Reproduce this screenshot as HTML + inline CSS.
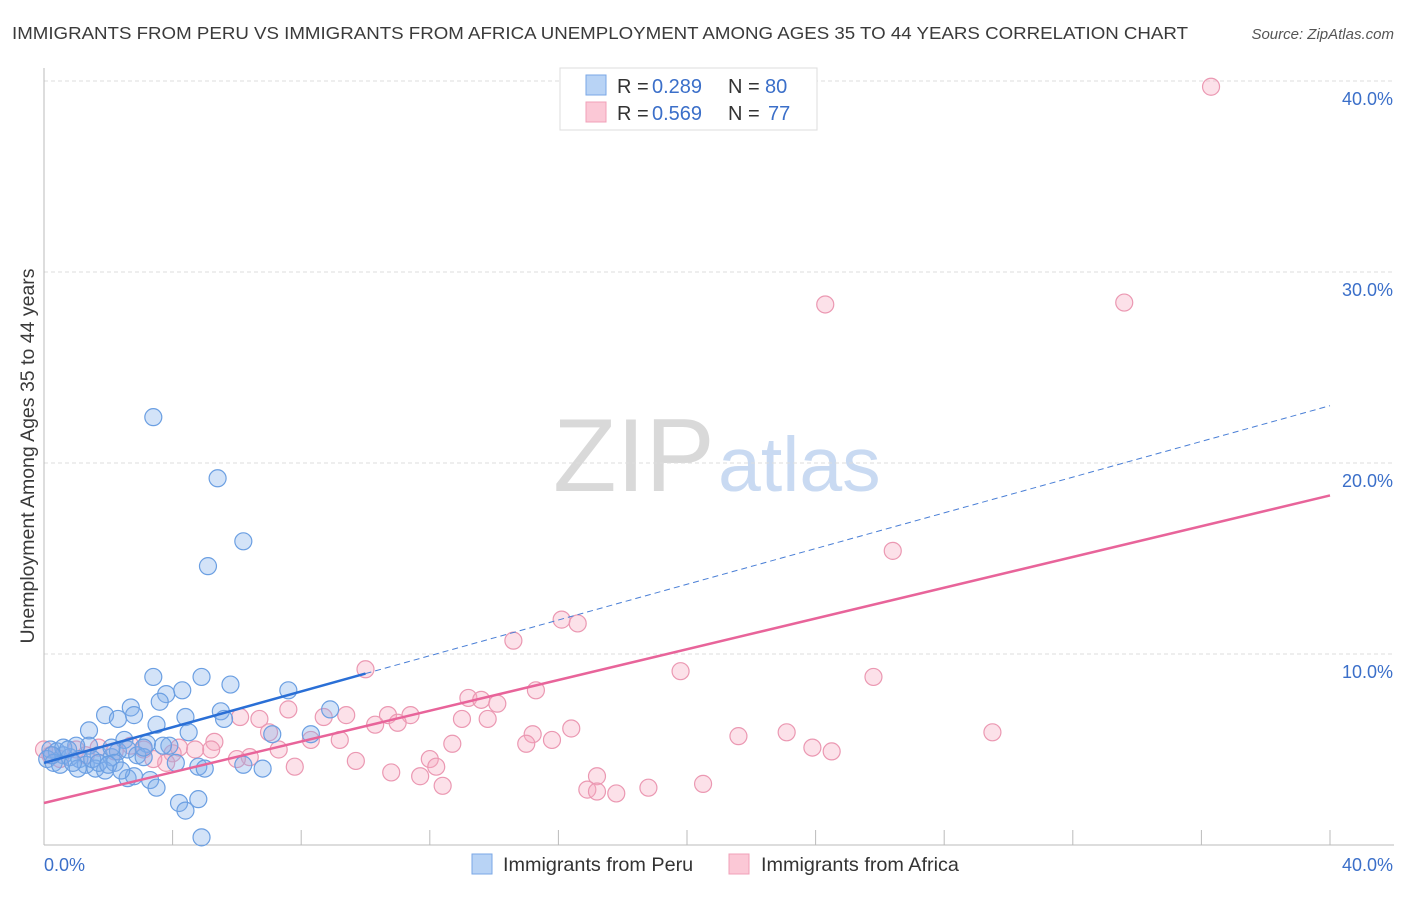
<!DOCTYPE html>
<html><head><meta charset="utf-8"><style>
body{margin:0;background:#fff;font-family:"Liberation Sans",sans-serif}
svg text{font-family:"Liberation Sans",sans-serif}
</style></head><body>
<svg id="chart" width="1406" height="892" xmlns="http://www.w3.org/2000/svg">
<text x="12" y="39" font-size="17.5" fill="#3a3a3a" textLength="1176" lengthAdjust="spacingAndGlyphs">IMMIGRANTS FROM PERU VS IMMIGRANTS FROM AFRICA UNEMPLOYMENT AMONG AGES 35 TO 44 YEARS CORRELATION CHART</text>
<text x="1394" y="39" font-size="15" fill="#555" font-style="italic" text-anchor="end">Source: ZipAtlas.com</text>
<g>
<text x="553" y="491" font-size="104" fill="#d9d9d9" font-family="Liberation Serif,serif">ZIP</text>
<text x="718" y="491" font-size="77" fill="#c9daf2">atlas</text>
</g>
<g id="grid"></g>
<g id="axes"></g>
<g id="marks"></g>
<text transform="translate(34,456) rotate(-90)" font-size="19.5" fill="#3a3a3a" text-anchor="middle">Unemployment Among Ages 35 to 44 years</text>
<g>
<rect x="560" y="68" width="257" height="62" fill="#fff" stroke="#ddd"/>
<rect x="586" y="75" width="20" height="20" fill="#b8d3f5" stroke="#7aa7e6"/>
<rect x="586" y="102" width="20" height="20" fill="#fbc8d6" stroke="#f0a0b8"/>
<text x="617" y="93" font-size="20" fill="#333">R =</text>
<text x="652" y="93" font-size="20" fill="#3b6fc9">0.289</text>
<text x="728" y="93" font-size="20" fill="#333">N =</text>
<text x="765" y="93" font-size="20" fill="#3b6fc9">80</text>
<text x="617" y="120" font-size="20" fill="#333">R =</text>
<text x="652" y="120" font-size="20" fill="#3b6fc9">0.569</text>
<text x="728" y="120" font-size="20" fill="#333">N =</text>
<text x="768" y="120" font-size="20" fill="#3b6fc9">77</text>
</g>
<g>
<rect x="472" y="854" width="20" height="20" fill="#b8d3f5" stroke="#7aa7e6"/>
<text x="503" y="871" font-size="19.8" fill="#333">Immigrants from Peru</text>
<rect x="729" y="854" width="20" height="20" fill="#fbc8d6" stroke="#f0a0b8"/>
<text x="761" y="871" font-size="19.8" fill="#333">Immigrants from Africa</text>
</g>
</svg>
<script>
const yTicks=[10,20,30,40];
const yTickLabels=["10.0%","20.0%","30.0%","40.0%"];
const xTickVals=[0,4,8,12,16,20,24,28,32,36,40];
const peruX=[3.4,5.4,6.2,5.1,3.4,4.9,5.8,4.3,3.8,7.6,3.6,2.7,8.9,1.9,2.3,2.8,4.4,5.5,5.6,1.4,3.5,4.5,7.1,8.3,2.5,1.4,3.2,3.9,1.0,0.2,0.4,0.6,0.8,1.1,1.7,2.1,2.3,2.6,2.9,3.1,0.1,0.3,1.3,1.6,1.9,1.05,4.1,4.8,5.0,6.2,6.8,2.6,2.8,3.3,3.5,4.2,4.8,4.4,4.9,0.6,0.75,2.1,3.1,3.7,1.5,2.2,0.5,0.9,1.7,2.0,2.4,0.25];
const peruY=[22.4,19.2,15.9,14.6,8.8,8.8,8.4,8.1,7.9,8.1,7.5,7.2,7.1,6.8,6.6,6.8,6.7,7.0,6.6,6.0,6.3,5.9,5.8,5.8,5.5,5.2,5.3,5.2,5.2,5.0,4.9,4.7,4.6,4.5,4.7,4.6,4.9,5.0,4.7,4.6,4.5,4.3,4.2,4.0,3.9,4.0,4.3,4.1,4.0,4.2,4.0,3.5,3.6,3.4,3.0,2.2,2.4,1.8,0.4,5.1,5.0,5.1,5.1,5.2,4.5,4.3,4.2,4.3,4.3,4.2,3.9,4.7];
const africaX=[36.3,24.3,33.6,26.4,16.1,16.6,14.6,10.0,19.8,25.8,15.3,13.2,13.6,14.1,8.7,9.4,10.7,11.4,6.1,6.7,7.6,13.0,13.8,10.3,11.0,16.4,15.2,15.8,15.0,21.6,23.1,29.5,23.9,24.5,12.7,9.2,8.3,7.0,5.3,5.2,4.2,4.7,4.0,3.8,6.4,6.0,7.3,7.8,9.7,12.0,12.2,10.8,11.7,12.4,17.2,16.9,17.2,17.8,18.8,20.5,2.7,1.7,1.0,0.0,0.2,0.5,1.3,2.2,3.1,3.4];
const africaY=[39.7,28.3,28.4,15.4,11.8,11.6,10.7,9.2,9.1,8.8,8.1,7.7,7.6,7.4,6.7,6.8,6.8,6.8,6.7,6.6,7.1,6.6,6.6,6.3,6.4,6.1,5.8,5.5,5.3,5.7,5.9,5.9,5.1,4.9,5.3,5.5,5.5,5.9,5.4,5.0,5.1,5.0,4.8,4.3,4.6,4.5,5.0,4.1,4.4,4.5,4.1,3.8,3.6,3.1,3.6,2.9,2.8,2.7,3.0,3.2,5.2,5.1,5.0,5.0,4.7,4.5,4.7,4.9,5.0,4.5];
const peruTrend=[4.3,0.4675];   // intercept, slope
const africaTrend=[2.2,0.4025];
const NS="http://www.w3.org/2000/svg";
const X=v=>44+v*32.15, Y=v=>845-v*19.1;
function mk(p,t,a){const e=document.createElementNS(NS,t);for(const k in a)e.setAttribute(k,a[k]);p.appendChild(e);return e;}
const grid=document.getElementById('grid'),axes=document.getElementById('axes'),marks=document.getElementById('marks');
yTicks.forEach((v,i)=>{
 const l=mk(grid,'line',{x1:44,x2:1394,y1:Y(v),y2:Y(v),stroke:'#ddd','stroke-dasharray':'4,3'});
 
 
 const t=mk(axes,'text',{x:1393,y:Y(v)+24,'font-size':18,fill:'#3b6fc9','text-anchor':'end'});
 t.textContent=yTickLabels[i];
 
 
});
let ax=mk(axes,'line',{x1:44,x2:44,y1:68,y2:845,stroke:'#bbb'});


ax=mk(axes,'line',{x1:44,x2:1394,y1:845,y2:845,stroke:'#bbb'});


xTickVals.forEach(v=>{
 const l=mk(axes,'line',{x1:X(v),x2:X(v),y1:830,y2:845,stroke:'#bbb'});
 
 
});
[[0,'start',44,"0.0%"],[40,'end',1393,"40.0%"]].forEach(a=>{
 const t=mk(axes,'text',{x:a[2],y:871,'font-size':18,fill:'#3b6fc9','text-anchor':a[1]});
 t.textContent=a[3];
 
 
});
africaX.forEach((v,i)=>{
 const c=mk(marks,'circle',{cx:X(v),cy:Y(africaY[i]),r:8.5,fill:'rgba(246,170,192,0.35)',stroke:'#eb98b2','stroke-width':1.2});
 
 
});
peruX.forEach((v,i)=>{
 const c=mk(marks,'circle',{cx:X(v),cy:Y(peruY[i]),r:8.5,fill:'rgba(130,175,235,0.35)',stroke:'#6b9fe2','stroke-width':1.2});
 
 
});
let l=mk(marks,'line',{x1:X(10),y1:Y(peruTrend[0]+peruTrend[1]*10),x2:X(40),y2:Y(peruTrend[0]+peruTrend[1]*40),stroke:'#4a7fd6','stroke-width':1,'stroke-dasharray':'6,4'});


l=mk(marks,'line',{x1:X(0),y1:Y(peruTrend[0]),x2:X(10),y2:Y(peruTrend[0]+peruTrend[1]*10),stroke:'#2a6fd6','stroke-width':2.5});


l=mk(marks,'line',{x1:X(0),y1:Y(africaTrend[0]),x2:X(40),y2:Y(africaTrend[0]+africaTrend[1]*40),stroke:'#e8649a','stroke-width':2.5});


</script>
</body></html>
